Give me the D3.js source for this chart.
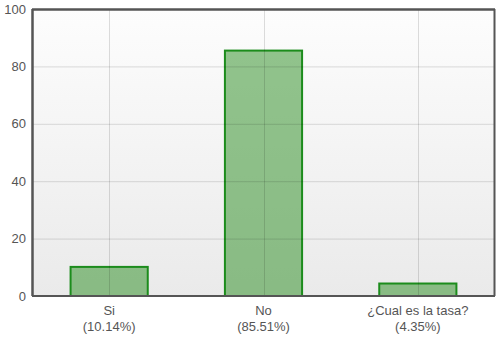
<!DOCTYPE html>
<html>
<head>
<meta charset="utf-8">
<script src="https://cdn.jsdelivr.net/npm/d3@7"></script>
<style>
  body { margin: 0; background: #fff; }
  text { font-family: "Liberation Sans", Arial, sans-serif; }
</style>
</head>
<body>
<div id="chart"></div>
<script>
// data
const categories = ["Si", "No", "¿Cual es la tasa?"];
const percentLabels = ["(10.14%)", "(85.51%)", "(4.35%)"];
const values = [10.14, 85.51, 4.35];
const yTicks = [0, 20, 40, 60, 80, 100];

const W = 496, H = 342;
const margin = { top: 9, right: 1, bottom: 46, left: 32 };
const width = W - margin.left - margin.right;
const height = H - margin.top - margin.bottom;

const svg = d3.select("#chart").append("svg")
  .attr("width", W)
  .attr("height", H);

const defs = svg.append("defs");
const grad = defs.append("linearGradient")
  .attr("id", "bg").attr("x1", 0).attr("y1", 0).attr("x2", 0).attr("y2", 1);
grad.append("stop").attr("offset", "0%").attr("stop-color", "#fdfdfd");
grad.append("stop").attr("offset", "100%").attr("stop-color", "#eaeaea");

const g = svg.append("g").attr("transform", `translate(${margin.left},${margin.top})`);

const x = d3.scaleBand().domain(categories).range([0, width])
  .paddingInner(0.5).paddingOuter(0.25);
const y = d3.scaleLinear().domain([0, 100]).range([height, 0]);

// background
g.append("rect").attr("width", width).attr("height", height).attr("fill", "url(#bg)");

// bars
g.selectAll(".bar")
  .data(values)
  .enter()
  .append("rect")
  .attr("x", (d, i) => x(categories[i]))
  .attr("y", d => y(d))
  .attr("width", x.bandwidth())
  .attr("height", d => y(0) - y(d))
  .attr("fill", "rgb(40,140,30)")
  .attr("fill-opacity", 0.5)
  .attr("stroke", "#1c8c1c")
  .attr("stroke-width", 2);

// grid (drawn over bars, bars are translucent)
g.selectAll(".hgrid")
  .data(yTicks.slice(1, -1))
  .enter()
  .append("line")
  .attr("x1", 0).attr("x2", width)
  .attr("y1", d => y(d) + 0.5).attr("y2", d => y(d) + 0.5)
  .attr("stroke", "#000").attr("stroke-opacity", 0.13);

g.selectAll(".vgrid")
  .data(categories)
  .enter()
  .append("line")
  .attr("x1", d => Math.round(x(d) + x.bandwidth() / 2) + 0.5)
  .attr("x2", d => Math.round(x(d) + x.bandwidth() / 2) + 0.5)
  .attr("y1", 0).attr("y2", height)
  .attr("stroke", "#000").attr("stroke-opacity", 0.13);

// frame
g.append("line").attr("x1", 0).attr("x2", width).attr("y1", 0.5).attr("y2", 0.5)
  .attr("stroke", "#555").attr("stroke-width", 2.5);
g.append("line").attr("x1", 0.5).attr("x2", 0.5).attr("y1", 0).attr("y2", height)
  .attr("stroke", "#555").attr("stroke-width", 2.5);
g.append("line").attr("x1", width - 0.5).attr("x2", width - 0.5).attr("y1", 0).attr("y2", height)
  .attr("stroke", "#555").attr("stroke-width", 2);
g.append("line").attr("x1", 0).attr("x2", width).attr("y1", height).attr("y2", height)
  .attr("stroke", "#555").attr("stroke-width", 2);

// y labels
g.selectAll(".ylab")
  .data(yTicks)
  .enter()
  .append("text")
  .attr("x", -6)
  .attr("y", d => y(d))
  .attr("dy", "0.35em")
  .attr("text-anchor", "end")
  .style("font-size", "13px")
  .style("fill", "#555")
  .text(d => d);

// x labels
const xl = g.selectAll(".xlab")
  .data(categories)
  .enter()
  .append("text")
  .attr("text-anchor", "middle")
  .attr("transform", d => `translate(${x(d) + x.bandwidth() / 2},${height + 19})`)
  .style("font-size", "13px")
  .style("fill", "#555");
xl.append("tspan").attr("x", 0).attr("y", 0).text(d => d);
xl.append("tspan").attr("x", 0).attr("y", 16).text((d, i) => percentLabels[i]);
</script>
</body>
</html>
